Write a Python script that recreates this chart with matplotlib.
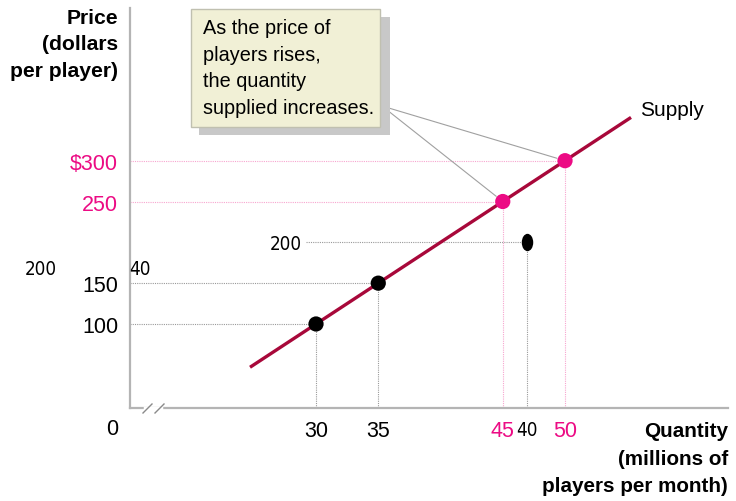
import matplotlib
matplotlib.use('Agg')
import matplotlib.pyplot as plt
from matplotlib import font_manager as fm
from matplotlib.patches import Rectangle
from matplotlib.markers import MarkerStyle
from matplotlib.transforms import Affine2D

# supply schedule points
quantity = [30, 35, 45, 50]
price = [100, 150, 250, 300]
point_colors = ['black', 'black', '#ec0b84', '#ec0b84']
price_labels = ['100', '150', '250', '$300']
quantity_labels = ['30', '35', '45', '50']

# the supply curve end points
supply_q = [24.7, 55.3]
supply_p = [47, 353]

# stray point drawn off the curve
odd_q = 46.97
odd_p = 200
odd_q_label = '40'
odd_p_label = '200'

quantity_title = ['Quantity', '(millions of', 'players per month)']

PINK = '#ec0b84'
LINE = '#a8083a'
GRAY = '#b4b4b4'
W, H = 736, 502


def fx(x):
    return x / W


def fy(y):
    return 1 - y / H


def narrow_font():
    # the stray labels are set in a narrow face
    for f in fm.fontManager.ttflist:
        if f.name == 'Liberation Sans Narrow' and f.style == 'normal' and f.weight in (400, 'normal', 'regular'):
            return fm.FontProperties(fname=f.fname), 14.5
    for f in fm.fontManager.ttflist:
        if (str(f.stretch) in ('condensed', 'semi-condensed', 'extra-condensed')
                and f.style == 'normal' and f.weight in (400, 'normal', 'regular')):
            return fm.FontProperties(fname=f.fname), 13.5
    return fm.FontProperties(family='Liberation Sans'), 12.5


plt.rcParams['font.family'] = ['Liberation Sans', 'DejaVu Sans']
nfp, nsize = narrow_font()
nfp.set_size(nsize)

fig = plt.figure(figsize=(W / 100, H / 100), dpi=100)
ax = fig.add_axes([fx(130), fy(409), (728 - 130) / W, (409 - 9) / H])
ax.set_xlim(15.06, 63.09)
ax.set_ylim(-2.9, 487.0)
x0, y0 = ax.get_xlim()[0], ax.get_ylim()[0]

for s in ['top', 'right']:
    ax.spines[s].set_visible(False)
for s in ['left', 'bottom']:
    ax.spines[s].set_color(GRAY)
    ax.spines[s].set_linewidth(1.6)

# dotted guide lines
for q, p, c in zip(quantity, price, point_colors):
    gc = '#f7a6cf' if c != 'black' else '#9a9a9a'
    ax.plot([x0, q], [p, p], ls=(0, (1, 1)), lw=0.8, color=gc, zorder=1)
    ax.plot([q, q], [y0, p], ls=(0, (1, 1)), lw=0.8, color=gc, zorder=1)
ax.plot([29.2, odd_q], [odd_p, odd_p], ls=(0, (1, 1)), lw=0.8, color='#9a9a9a', zorder=1)
ax.plot([odd_q, odd_q], [y0, odd_p], ls=(0, (1, 1)), lw=0.8, color='#9a9a9a', zorder=1)

# supply curve and points
ax.plot(supply_q, supply_p, color=LINE, lw=2.4, solid_capstyle='butt', zorder=2)
ax.scatter(quantity, price, s=120, c=point_colors, zorder=3, linewidths=0)
ax.plot([odd_q], [odd_p], ls='none', color='black', markersize=12.5, mew=0, zorder=3,
        marker=MarkerStyle('o', transform=Affine2D().scale(0.66, 1.0)))
ax.annotate('Supply', xy=(supply_q[1], supply_p[1]), xytext=(6.5, 6), textcoords='offset points',
            fontsize=15, ha='left', va='center')

# ticks
ax.set_yticks(price, price_labels, fontsize=15.5)
for lab, c in zip(ax.get_yticklabels(), point_colors):
    lab.set_color(c)
ax.set_xticks(quantity + [odd_q], quantity_labels + [odd_q_label], fontsize=15.5)
for lab, c in zip(ax.get_xticklabels(), point_colors + ['black']):
    lab.set_color(c)
ax.get_xticklabels()[-1].set_fontproperties(nfp)
ax.tick_params(length=0, pad=8.5)

# axis break marks
fig.add_artist(plt.Line2D([fx(145), fx(161)], [fy(409), fy(409)], color='white', lw=2.5))
for xs in [143, 155]:
    fig.add_artist(plt.Line2D([fx(xs), fx(xs + 9)], [fy(414), fy(405)], color='#8a8a8a', lw=1.0))

fig.text(fx(118), fy(430), '0', ha='right', va='center', fontsize=15.5)

# axis titles
fig.text(fx(118), fy(45), 'Price\n(dollars\nper player)', ha='right', va='center',
         fontsize=15.2, fontweight='bold', linespacing=1.48)
for line, yy in zip(quantity_title, [432, 460, 487]):
    fig.text(fx(728), fy(yy), line, ha='right', va='center', fontsize=14.9, fontweight='bold')

# stray labels
fig.text(fx(40.5), fy(270), odd_p_label, ha='center', va='center', fontproperties=nfp)
fig.text(fx(139.5), fy(270), odd_q_label, ha='center', va='center', fontproperties=nfp)
fig.text(fx(286), fy(245), odd_p_label, ha='center', va='center', fontproperties=nfp)

# callout box with shadow
fig.add_artist(Rectangle((fx(199), fy(136)), (382 - 191) / W, (136 - 18) / H,
                         transform=fig.transFigure, facecolor='#c8c8c8', edgecolor='none'))
fig.add_artist(Rectangle((fx(191), fy(128)), (380 - 191) / W, (128 - 10) / H,
                         transform=fig.transFigure, facecolor='#f1f0d6', edgecolor='#c0c0b0', lw=1.0))
fig.text(fx(203), fy(68.5), 'As the price of\nplayers rises,\nthe quantity\nsupplied increases.',
         ha='left', va='center', fontsize=14.3, linespacing=1.49)

for q, p in zip(quantity[2:], price[2:]):
    ax.annotate('', xy=(q, p), xytext=(382, H - 107), textcoords='figure pixels',
                arrowprops=dict(arrowstyle='-', color='#a0a0a0', lw=0.8,
                                shrinkA=0, shrinkB=6))

fig.savefig('out.png', dpi=100)
